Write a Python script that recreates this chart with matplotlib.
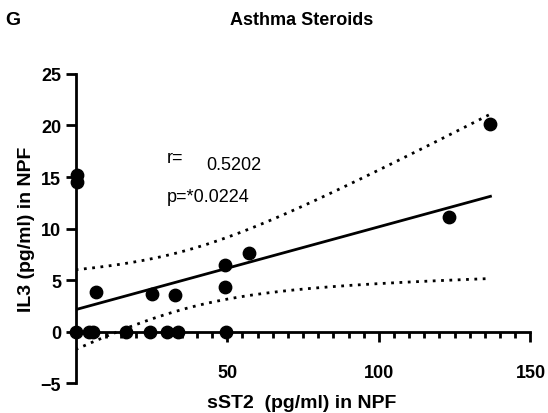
import numpy as np
import matplotlib
matplotlib.use("Agg")
import matplotlib.pyplot as plt
plt.rcParams['font.family'] = ['Liberation Sans', 'DejaVu Sans']

sst2 = [0.5, 0.5, 0, 4.5, 5.7, 16.6, 24.6, 30.2, 33.8, 49.7,
        6.8, 25.2, 32.7, 49.4, 49.4, 57.3, 123, 136.8]
il3 = [15.2, 14.5, 0, 0, 0, 0, 0, 0, 0, 0,
       3.8, 3.7, 3.6, 4.3, 6.5, 7.6, 11.1, 20.1]
x = np.array(sst2); y = np.array(il3)

fig = plt.figure(figsize=(5.48, 4.14), dpi=100)
ax = fig.add_axes([0.138, 0.072, 0.83, 0.747])
ax.scatter(x, y, s=80, color='black', zorder=3, clip_on=False)

n = len(x)
b, a = np.polyfit(x, y, 1)
xs = np.linspace(x.min(), x.max(), 200)
yh = a + b * xs
res = y - (a + b * x)
s = np.sqrt(np.sum(res**2) / (n - 2))
se = s * np.sqrt(1 / n + (xs - x.mean())**2 / np.sum((x - x.mean())**2))
t = 2.12
ax.plot(xs, yh, color='black', lw=2)
ax.plot(xs, yh + t * se, color='black', lw=2, ls=(0, (1, 2)))
ax.plot(xs, yh - t * se, color='black', lw=2, ls=(0, (1, 2)))

ax.set_xlim(0, 150); ax.set_ylim(-5, 25)
ax.spines['top'].set_visible(False); ax.spines['right'].set_visible(False)
ax.spines['bottom'].set_position(('data', 0))
for sp in ['left', 'bottom']:
    ax.spines[sp].set_linewidth(2)
ax.set_xticks([50, 100, 150])
ax.set_xticks(np.arange(0, 151, 5), minor=True)
ax.set_yticks([-5, 0, 5, 10, 15, 20, 25])
ax.tick_params(axis='both', which='major', width=2, length=7, labelsize=13)
ax.tick_params(axis='x', which='minor', width=2, length=4)
for lab in ax.get_xticklabels() + ax.get_yticklabels():
    lab.set_fontweight('bold')
ax.tick_params(axis='x', pad=16)
ax.set_ylabel('IL3 (pg/ml) in NPF', fontsize=14, fontweight='bold')
fig.text(0.55, 0.015, 'sST2  (pg/ml) in NPF', ha='center', fontsize=14, fontweight='bold')
ax.text(30, 16.5, 'r=', fontsize=13)
ax.text(43, 15.8, '0.5202', fontsize=13)
ax.text(30, 12.7, 'p=*0.0224', fontsize=13)
fig.text(0.55, 0.94, 'Asthma Steroids', ha='center', fontsize=13, fontweight='bold')
fig.text(0.01, 0.94, 'G', fontsize=14, fontweight='bold')
fig.savefig('out.png', dpi=100)
